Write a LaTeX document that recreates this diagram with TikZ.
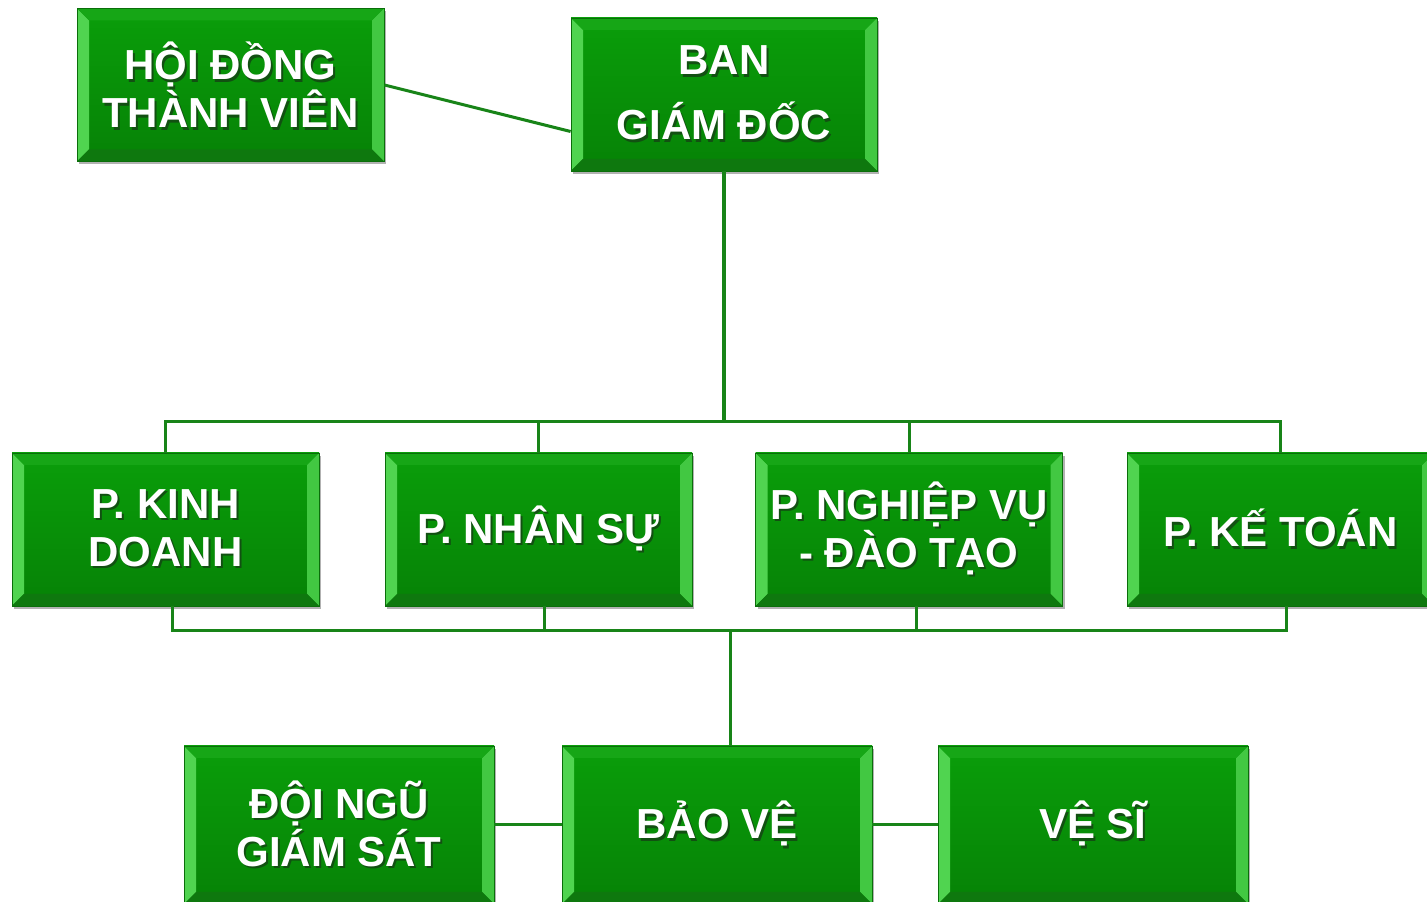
\documentclass[tikz,border=0pt]{standalone}
\usepackage{fontspec}
\setmainfont{Liberation Sans}
\usetikzlibrary{shadows}
\definecolor{lnc}{RGB}{24,132,24}
\definecolor{faceT}{RGB}{10,158,10}
\definecolor{faceB}{RGB}{6,130,6}
\definecolor{edge}{RGB}{10,110,10}
\definecolor{bevL}{RGB}{80,212,80}
\definecolor{bevR}{RGB}{66,200,66}
\definecolor{bevT}{RGB}{22,166,22}
\definecolor{bevB}{RGB}{14,120,14}
\definecolor{shd}{RGB}{18,80,18}
\newcommand\shl[1]{\makebox[0pt][l]{\hspace{2pt}\raisebox{-2.5pt}{\textcolor{shd}{#1}}}#1}
\tikzset{
  gbox/.style={rectangle, inner sep=0pt, minimum width=307pt, minimum height=153pt,
    top color=faceT, bottom color=faceB, draw=edge, line width=0.8pt,
    text=white, align=center,
    font=\fontsize{42}{48}\selectfont\bfseries,
    drop shadow={shadow xshift=2pt, shadow yshift=-3pt, opacity=0.3, fill=black},
    path picture={
      \def\bvd{12pt}
      \fill[bevL] (path picture bounding box.south west) -- (path picture bounding box.north west)
        -- ([shift={(\bvd,-\bvd)}]path picture bounding box.north west)
        -- ([shift={(\bvd,\bvd)}]path picture bounding box.south west) -- cycle;
      \fill[bevR] (path picture bounding box.south east) -- (path picture bounding box.north east)
        -- ([shift={(-\bvd,-\bvd)}]path picture bounding box.north east)
        -- ([shift={(-\bvd,\bvd)}]path picture bounding box.south east) -- cycle;
      \fill[bevT] (path picture bounding box.north west) -- (path picture bounding box.north east)
        -- ([shift={(-\bvd,-\bvd)}]path picture bounding box.north east)
        -- ([shift={(\bvd,-\bvd)}]path picture bounding box.north west) -- cycle;
      \fill[bevB] (path picture bounding box.south west) -- (path picture bounding box.south east)
        -- ([shift={(-\bvd,\bvd)}]path picture bounding box.south east)
        -- ([shift={(\bvd,\bvd)}]path picture bounding box.south west) -- cycle;
    }},
  wbox/.style={gbox, minimum width=310pt, minimum height=158pt},
  conn/.style={draw=lnc, line width=3pt},
  mainconn/.style={draw=lnc, line width=4.5pt},
}
\begin{document}
\begin{tikzpicture}[x=1pt,y=1pt]
\clip (0,0) rectangle (1427,902);
\fill[white] (0,0) rectangle (1427,902);

\node[gbox, text depth=0pt] (hd) at (230.5,817) {\shl{HỘI ĐỒNG}\\\shl{THÀNH VIÊN}};
\node[gbox, minimum width=306pt, font=\fontsize{42}{65}\selectfont\bfseries] (bgd) at (724,807.5) {\shl{BAN}\\\shl{GIÁM ĐỐC}};

\node[gbox] (kd) at (165.5,372.5) {\shl{P. KINH}\\\shl{DOANH}};
\node[gbox] (ns) at (538.5,372.5) {\shl{P. NHÂN SỰ}};
\node[gbox] (nv) at (909,372.5) {\shl{P. NGHIỆP VỤ}\\\shl{- ĐÀO TẠO}};
\node[gbox] (kt) at (1280.5,372.5) {\shl{P. KẾ TOÁN}};

\node[wbox] (dn) at (339,77) {\shl{ĐỘI NGŨ}\\\shl{GIÁM SÁT}};
\node[wbox] (bv) at (717,77) {\shl{BẢO VỆ}};
\node[wbox] (vs) at (1093,77) {\shl{VỆ SĨ}};

% connectors
\draw[conn] (hd.east) -- ([yshift=-37pt]bgd.west);
\draw[mainconn] (bgd.south) -- ++(0,-250) coordinate (j1);
\draw[conn] (kd.north) |- (j1) -| (kt.north);
\draw[conn] (ns.north) -- (ns.north |- j1);
\draw[conn] (nv.north) -- (nv.north |- j1);

\draw[conn] ([xshift=13pt]bv.north) -- ++(0,115) coordinate (j2);
\draw[conn] ([xshift=7pt]kd.south) |- (j2) -| ([xshift=6pt]kt.south);
\draw[conn] ([xshift=6pt]ns.south) -- ([xshift=6pt]ns.south |- j2);
\draw[conn] ([xshift=7pt]nv.south) -- ([xshift=7pt]nv.south |- j2);

\draw[conn] (dn.east) -- (bv.west);
\draw[conn] (bv.east) -- (vs.west);
\end{tikzpicture}
\end{document}
